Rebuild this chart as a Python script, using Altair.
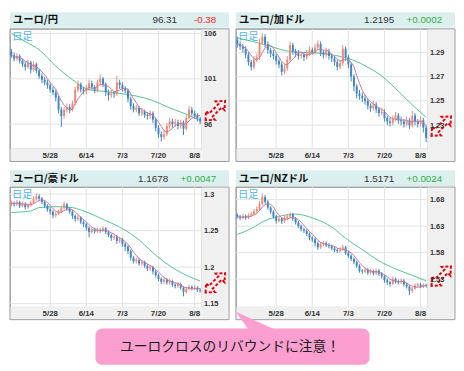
import altair as alt
import pandas as pd

# ---------------- categories ----------------
dates = [f"{d.month}/{d.day}" for d in pd.bdate_range("2012-05-08", "2012-08-10")]
tick_dates = ["5/28", "6/14", "7/3", "7/20", "8/8"]

# ---------------- EUR/JPY ----------------
jpy_open = [104.0,103.6,103.2,103.5,103.0,102.6,102.3,102.8,102.0,102.6,101.9,101.3,100.9,100.6,100.3,99.8,99.5,98.9,97.6,96.9,97.6,97.9,97.6,98.3,99.8,100.4,99.8,99.6,99.9,100.5,100.1,99.7,100.6,101.0,100.4,99.5,99.2,99.4,99.3,100.6,100.3,99.9,99.7,98.8,98.0,97.6,97.8,97.2,97.4,97.0,96.9,97.2,96.5,95.6,94.9,94.6,94.9,95.8,96.3,96.0,96.2,95.8,96.2,95.5,96.7,97.6,97.2,96.9,96.6]
jpy_high = [104.3,103.9,103.8,103.7,103.2,102.9,103.1,103.0,102.9,102.8,102.1,101.6,101.2,100.9,100.5,100.1,99.8,99.1,97.9,97.9,98.3,98.2,98.6,100.1,100.8,100.6,100.1,100.3,100.9,100.8,100.3,100.9,101.5,101.2,100.6,99.8,99.8,99.7,101.3,100.9,100.6,100.2,99.9,99.0,98.3,98.1,98.0,97.8,97.6,97.3,97.5,97.4,96.7,95.9,95.2,95.3,96.1,96.7,96.6,96.6,96.5,96.5,96.4,97.0,98.0,97.9,97.5,97.2,96.8]
jpy_low = [103.3,102.9,103.0,102.7,102.3,101.9,102.1,101.6,101.8,101.6,101.0,100.5,100.3,99.9,99.5,99.2,98.5,97.2,95.7,96.6,97.3,97.2,97.4,98.1,99.5,99.5,99.3,99.3,99.7,99.8,99.4,99.5,100.3,100.1,99.1,98.6,98.9,98.9,99.1,99.9,99.6,99.4,98.4,97.6,97.3,97.3,96.9,96.9,96.7,96.5,96.6,96.1,95.2,94.5,94.1,94.3,94.7,95.5,95.6,95.7,95.4,95.5,94.8,95.3,96.5,96.9,96.6,96.3,96.0]
jpy_close = [103.6,103.2,103.5,103.0,102.6,102.3,102.8,102.0,102.6,101.9,101.3,100.9,100.6,100.3,99.8,99.5,98.9,97.6,96.9,97.6,97.9,97.6,98.3,99.8,100.4,99.8,99.6,99.9,100.5,100.1,99.7,100.6,101.0,100.4,99.5,99.2,99.4,99.3,100.6,100.3,99.9,99.7,98.8,98.0,97.6,97.8,97.2,97.4,97.0,96.9,97.2,96.5,95.6,94.9,94.6,94.9,95.8,96.3,96.0,96.2,95.8,96.2,95.5,96.7,97.6,97.2,96.9,96.6,96.31]
jpy_ma_idx = [0, 5, 10, 16, 22, 28, 34, 39, 45, 51, 57, 63, 68]
jpy_ma_val = [106.0, 105.1, 104.2, 102.4, 100.9, 99.8, 99.6, 99.4, 99.1, 98.6, 97.8, 97.1, 96.4]
jpy_ticks = [96, 101, 106]

# ---------------- EUR/CAD ----------------
cad_open = [1.300,1.297,1.295,1.293,1.288,1.282,1.278,1.284,1.286,1.298,1.303,1.297,1.292,1.289,1.287,1.283,1.280,1.274,1.277,1.284,1.296,1.291,1.289,1.287,1.288,1.286,1.289,1.292,1.290,1.294,1.297,1.290,1.288,1.291,1.287,1.285,1.282,1.278,1.281,1.293,1.286,1.280,1.270,1.262,1.256,1.254,1.252,1.250,1.246,1.244,1.247,1.243,1.240,1.241,1.236,1.233,1.232,1.235,1.238,1.234,1.233,1.231,1.234,1.230,1.238,1.233,1.231,1.234,1.228]
cad_high = [1.303,1.299,1.297,1.295,1.290,1.284,1.287,1.289,1.301,1.306,1.305,1.299,1.294,1.292,1.289,1.285,1.282,1.280,1.287,1.299,1.298,1.293,1.292,1.291,1.290,1.292,1.295,1.294,1.297,1.300,1.299,1.292,1.294,1.293,1.289,1.287,1.284,1.284,1.296,1.295,1.288,1.282,1.272,1.264,1.259,1.257,1.255,1.252,1.248,1.250,1.249,1.245,1.244,1.243,1.238,1.236,1.238,1.241,1.240,1.237,1.235,1.237,1.236,1.242,1.240,1.235,1.237,1.236,1.230]
cad_low = [1.294,1.292,1.290,1.285,1.279,1.275,1.276,1.282,1.284,1.296,1.294,1.289,1.286,1.284,1.280,1.277,1.271,1.272,1.275,1.282,1.288,1.286,1.284,1.285,1.283,1.284,1.287,1.288,1.288,1.292,1.287,1.285,1.286,1.284,1.282,1.279,1.275,1.276,1.279,1.283,1.277,1.266,1.258,1.252,1.251,1.249,1.247,1.243,1.241,1.242,1.240,1.237,1.238,1.233,1.230,1.229,1.230,1.233,1.231,1.230,1.228,1.229,1.227,1.228,1.230,1.228,1.229,1.224,1.216]
cad_close = [1.297,1.295,1.293,1.288,1.282,1.278,1.284,1.286,1.298,1.303,1.297,1.292,1.289,1.287,1.283,1.280,1.274,1.277,1.284,1.296,1.291,1.289,1.287,1.288,1.286,1.289,1.292,1.290,1.294,1.297,1.290,1.288,1.291,1.287,1.285,1.282,1.278,1.281,1.293,1.286,1.280,1.270,1.262,1.256,1.254,1.252,1.250,1.246,1.244,1.247,1.243,1.240,1.241,1.236,1.233,1.232,1.235,1.238,1.234,1.233,1.231,1.234,1.230,1.238,1.233,1.231,1.234,1.228,1.2195]
cad_ma_idx = [0, 11, 17, 23, 29, 35, 40, 46, 52, 58, 64, 68]
cad_ma_val = [1.302, 1.2957, 1.2916, 1.290, 1.2895, 1.2876, 1.285, 1.279, 1.2705, 1.258, 1.2446, 1.2366]
cad_ticks = [1.23, 1.25, 1.27, 1.29]

# ---------------- EUR/AUD ----------------
aud_open = [1.285,1.288,1.286,1.289,1.284,1.287,1.282,1.285,1.288,1.293,1.297,1.294,1.289,1.284,1.279,1.276,1.271,1.273,1.276,1.281,1.286,1.280,1.276,1.270,1.266,1.268,1.262,1.259,1.254,1.248,1.252,1.249,1.251,1.250,1.253,1.248,1.244,1.240,1.242,1.236,1.238,1.232,1.228,1.222,1.213,1.208,1.210,1.205,1.207,1.202,1.198,1.200,1.194,1.189,1.184,1.180,1.183,1.179,1.181,1.176,1.174,1.177,1.172,1.166,1.170,1.173,1.171,1.172,1.169]
aud_high = [1.291,1.290,1.292,1.291,1.290,1.289,1.288,1.291,1.297,1.301,1.300,1.296,1.291,1.286,1.282,1.278,1.276,1.279,1.284,1.290,1.288,1.282,1.278,1.272,1.271,1.270,1.264,1.261,1.256,1.255,1.254,1.254,1.253,1.256,1.255,1.250,1.246,1.245,1.244,1.241,1.240,1.234,1.230,1.224,1.215,1.213,1.212,1.210,1.209,1.204,1.203,1.202,1.196,1.191,1.186,1.186,1.185,1.184,1.183,1.178,1.180,1.179,1.174,1.173,1.176,1.175,1.175,1.174,1.171]
aud_low = [1.283,1.283,1.284,1.281,1.282,1.279,1.280,1.283,1.286,1.291,1.291,1.286,1.281,1.276,1.272,1.267,1.268,1.271,1.274,1.279,1.277,1.273,1.266,1.262,1.263,1.259,1.255,1.250,1.241,1.246,1.246,1.247,1.247,1.248,1.245,1.241,1.236,1.237,1.232,1.233,1.228,1.222,1.218,1.209,1.205,1.205,1.202,1.202,1.199,1.195,1.195,1.190,1.186,1.181,1.177,1.177,1.176,1.176,1.173,1.171,1.171,1.169,1.160,1.164,1.168,1.168,1.169,1.166,1.165]
aud_close = [1.288,1.286,1.289,1.284,1.287,1.282,1.285,1.288,1.293,1.297,1.294,1.289,1.284,1.279,1.276,1.271,1.273,1.276,1.281,1.286,1.280,1.276,1.270,1.266,1.268,1.262,1.259,1.254,1.248,1.252,1.249,1.251,1.250,1.253,1.248,1.244,1.240,1.242,1.236,1.238,1.232,1.228,1.222,1.213,1.208,1.210,1.205,1.207,1.202,1.198,1.200,1.194,1.189,1.184,1.180,1.183,1.179,1.181,1.176,1.174,1.177,1.172,1.166,1.170,1.173,1.171,1.172,1.169,1.1678]
aud_ma_idx = [0, 7, 10, 16, 22, 28, 34, 40, 46, 51, 57, 63, 68]
aud_ma_val = [1.2749, 1.277, 1.2815, 1.2828, 1.2815, 1.274, 1.2638, 1.2528, 1.2373, 1.2197, 1.202, 1.1889, 1.181]
aud_ticks = [1.15, 1.2, 1.25, 1.3]

# ---------------- EUR/NZD ----------------
nzd_open = [1.651,1.648,1.645,1.649,1.646,1.650,1.653,1.658,1.662,1.672,1.685,1.676,1.665,1.657,1.648,1.640,1.644,1.639,1.645,1.648,1.652,1.644,1.637,1.630,1.624,1.621,1.615,1.608,1.605,1.598,1.590,1.596,1.598,1.594,1.592,1.588,1.585,1.583,1.586,1.590,1.580,1.574,1.568,1.562,1.555,1.546,1.544,1.548,1.542,1.545,1.541,1.546,1.540,1.535,1.528,1.524,1.521,1.530,1.526,1.524,1.527,1.520,1.516,1.508,1.512,1.518,1.520,1.516,1.519]
nzd_high = [1.654,1.651,1.653,1.652,1.654,1.657,1.662,1.667,1.677,1.692,1.689,1.679,1.668,1.660,1.651,1.648,1.647,1.649,1.652,1.656,1.655,1.647,1.640,1.633,1.627,1.624,1.618,1.611,1.608,1.601,1.600,1.602,1.601,1.598,1.595,1.591,1.588,1.590,1.595,1.593,1.583,1.577,1.571,1.565,1.558,1.549,1.552,1.551,1.549,1.548,1.550,1.549,1.543,1.538,1.531,1.527,1.535,1.533,1.529,1.531,1.530,1.523,1.518,1.515,1.522,1.523,1.523,1.522,1.521]
nzd_low = [1.644,1.641,1.643,1.642,1.643,1.647,1.650,1.655,1.659,1.669,1.672,1.661,1.653,1.644,1.635,1.637,1.634,1.636,1.642,1.645,1.640,1.633,1.626,1.620,1.617,1.611,1.603,1.600,1.592,1.585,1.587,1.592,1.590,1.588,1.584,1.581,1.579,1.580,1.583,1.576,1.570,1.564,1.558,1.551,1.542,1.540,1.541,1.538,1.539,1.537,1.538,1.536,1.531,1.523,1.519,1.516,1.519,1.522,1.520,1.521,1.516,1.512,1.500,1.504,1.510,1.515,1.513,1.513,1.514]
nzd_close = [1.648,1.645,1.649,1.646,1.650,1.653,1.658,1.662,1.672,1.685,1.676,1.665,1.657,1.648,1.640,1.644,1.639,1.645,1.648,1.652,1.644,1.637,1.630,1.624,1.621,1.615,1.608,1.605,1.598,1.590,1.596,1.598,1.594,1.592,1.588,1.585,1.583,1.586,1.590,1.580,1.574,1.568,1.562,1.555,1.546,1.544,1.548,1.542,1.545,1.541,1.546,1.540,1.535,1.528,1.524,1.521,1.530,1.526,1.524,1.527,1.520,1.516,1.508,1.512,1.518,1.520,1.516,1.519,1.5171]
nzd_ma_idx = [0, 5, 10, 16, 21, 28, 34, 39, 45, 51, 57, 63, 68]
nzd_ma_val = [1.6143, 1.6253, 1.6404, 1.6496, 1.6526, 1.6435, 1.6283, 1.607, 1.5857, 1.5645, 1.5492, 1.5371, 1.5267]
nzd_ticks = [1.53, 1.58, 1.63, 1.68]

# ---------------- styling ----------------
W, H, SR, SB, HEAD = 195, 122, 28, 13, 17
UP, DOWN = "#f08a74", "#3f86c8"
PINK, GREEN = "#c7789c", "#55c38e"
STRIP, HEADER_BG, BORDER = "#f0f0f0", "#dcefef", "#9c9c9c"
BOX = "#fb9fd1"
ARROW = ("M -1 0 L -0.5 -0.45 L -0.5 -0.17 L 0.5 -0.17 L 0.5 -0.45 L 1 0 "
         "L 0.5 0.45 L 0.5 0.17 L -0.5 0.17 L -0.5 0.45 Z")
dummy = pd.DataFrame({"k": [0]})


def txt(s, x, y, **kw):
    return alt.Chart(dummy).mark_text(text=s, **kw).encode(x=alt.value(x), y=alt.value(y))


def panel(label, last, change, chg_color, value_x, o, h, l, c, ma_idx, ma_val, dom, yt,
          arrow_dy, callout=False):
    df = pd.DataFrame({"i": list(range(len(dates))), "date": dates,
                       "open": o, "high": h, "low": l, "close": c})
    xs = alt.Scale(domain=dates, paddingInner=0.3, paddingOuter=0.15)
    ys = alt.Scale(domain=dom, zero=False, nice=False)
    xax = alt.Axis(values=tick_dates, labelAngle=0, labelFont="Liberation Sans",
                   labelFontSize=8, labelFontWeight="bold", labelColor="#333333",
                   labelPadding=3, ticks=False, domain=False, grid=False,
                   labelOverlap=False, title=None, zindex=1)
    yax = alt.Axis(orient="right", values=yt, format=".3~f", labelFont="Liberation Sans",
                   labelFontSize=7.5, labelFontWeight="bold", labelColor="#333333",
                   labelPadding=2, ticks=False, domain=False, grid=False,
                   labelOverlap=False, title=None, zindex=1)

    def X(f, center=True):
        if center:
            return alt.X(f, type="ordinal", scale=xs, axis=xax, bandPosition=0.5)
        return alt.X(f, type="ordinal", scale=xs, axis=xax)

    def Y(f):
        return alt.Y(f, type="quantitative", scale=ys, axis=yax)

    strip_r = alt.Chart(dummy).mark_rect(color=STRIP).encode(
        x=alt.value(W), x2=alt.value(W + SR), y=alt.value(0), y2=alt.value(H + SB))
    strip_b = alt.Chart(dummy).mark_rect(color=STRIP).encode(
        x=alt.value(0), x2=alt.value(W), y=alt.value(H), y2=alt.value(H + SB))
    border = alt.Chart(dummy).mark_rect(fillOpacity=0, stroke=BORDER, strokeWidth=1).encode(
        x=alt.value(0), x2=alt.value(W + SR), y=alt.value(0), y2=alt.value(H + SB))
    header = alt.Chart(dummy).mark_rect(color=HEADER_BG).encode(
        x=alt.value(0), x2=alt.value(W + SR), y=alt.value(-HEAD), y2=alt.value(-1))

    hgrid = alt.Chart(pd.DataFrame({"p": yt})).mark_rule(color="#e2e2e2").encode(y=Y("p"))
    vgrid = alt.Chart(pd.DataFrame({"d": tick_dates})).mark_rule(color="#e2e2e2").encode(x=X("d"))

    nichi = txt("日足", 2, 8, align="left", baseline="middle", font="Noto Sans CJK JP",
                fontSize=10.5, color="#52b6ea")

    gdf = pd.DataFrame({"i": ma_idx, "date": [dates[k] for k in ma_idx], "v": ma_val})
    green = alt.Chart(gdf).mark_line(color=GREEN, strokeWidth=1, interpolate="monotone").encode(
        x=X("date"), y=Y("v"), order=alt.Order("i:Q"))

    base = alt.Chart(df)
    col = alt.condition("datum.close >= datum.open", alt.value(UP), alt.value(DOWN))
    wick = base.mark_rule(strokeWidth=1).encode(x=X("date"), y=Y("low"), y2="high", color=col)
    body = base.mark_bar().encode(x=X("date", center=False), y=Y("open"), y2="close", color=col)
    pink = base.transform_window(ma="mean(close)", frame=[-4, 0], sort=[alt.SortField("i")]).mark_line(
        color=PINK, strokeWidth=1).encode(x=X("date"), y=Y("ma"), order=alt.Order("i:Q"))

    t_label = txt(label, 3, -8.5, align="left", baseline="middle", font="Noto Sans CJK JP",
                  fontWeight="bold", fontSize=10.5, color="#111111")
    t_last = txt(last, value_x, -8.5, align="right", baseline="middle", font="Liberation Sans",
                 fontSize=10, color="#333333")
    t_chg = txt(change, 210, -8.5, align="right", baseline="middle", font="Liberation Sans",
                fontSize=10, color=chg_color)

    arrow = alt.Chart(df.tail(1)).mark_point(
        shape=ARROW, size=784, angle=315, filled=False, stroke="#e8000b", strokeWidth=2,
        strokeDash=[3, 2], opacity=1, yOffset=arrow_dy).encode(x=alt.value(W + 14), y=Y("close"))

    layers = [strip_r, strip_b, border, header, hgrid, vgrid, nichi, green, wick, body, pink,
              t_label, t_last, t_chg, arrow]
    if callout:
        box = alt.Chart(dummy).mark_rect(color=BOX, cornerRadius=7).encode(
            x=alt.value(-143), x2=alt.value(136), y=alt.value(144), y2=alt.value(181))
        ptr = alt.Chart(dummy).mark_point(shape="M 0 0 L 44 20 L 14 20 Z", size=4, filled=True,
                                          color=BOX, opacity=1, strokeWidth=0).encode(
            x=alt.value(0), y=alt.value(127))
        ctext = txt("ユーロクロスのリバウンドに注意！", -6, 163, align="center", baseline="middle",
                    font="Noto Sans CJK JP", fontSize=14, color="#1a1a1a")
        layers += [box, ptr, ctext]
    return alt.layer(*layers).properties(width=W, height=H)


p1 = panel("ユーロ/円", "96.31", "-0.38", "#ff2020", 170, jpy_open, jpy_high, jpy_low, jpy_close,
           jpy_ma_idx, jpy_ma_val, [93.3, 106.5], jpy_ticks, -11)
p2 = panel("ユーロ/加ドル", "1.2195", "+0.0002", "#33b040", 161, cad_open, cad_high, cad_low, cad_close,
           cad_ma_idx, cad_ma_val, [1.2106, 1.3094], cad_ticks, -12)
p3 = panel("ユーロ/豪ドル", "1.1678", "+0.0047", "#33b040", 161, aud_open, aud_high, aud_low, aud_close,
           aud_ma_idx, aud_ma_val, [1.1456, 1.3097], aud_ticks, -8)
p4 = panel("ユーロ/NZドル", "1.5171", "+0.0024", "#33b040", 161, nzd_open, nzd_high, nzd_low, nzd_close,
           nzd_ma_idx, nzd_ma_val, [1.4776, 1.7037], nzd_ticks, -10, callout=True)

chart = alt.concat(p1, p2, p3, p4, columns=2, spacing={"row": 39, "column": 35},
                   bounds="flush").properties(padding=0, background="white").configure_view(
    stroke="#aaaaaa", strokeWidth=1)

chart.save("out.html", embed_options={"renderer": "svg", "actions": False})
